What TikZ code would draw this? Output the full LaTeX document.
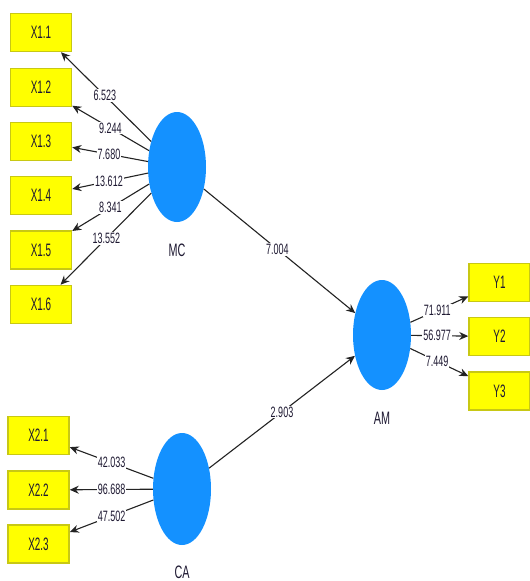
\documentclass[tikz,border=0pt]{standalone}
\usepackage{fontspec}
\setmainfont{Liberation Sans}
\newfontfamily\boxfont[FakeStretch=0.55]{Liberation Sans}
\newfontfamily\numfont[FakeStretch=0.6]{Liberation Sans}
\newfontfamily\latfont[FakeStretch=0.6]{Liberation Sans}
\usetikzlibrary{shapes.geometric,arrows.meta,calc}
\definecolor{boxfill}{RGB}{255,255,0}
\definecolor{boxline}{RGB}{200,200,20}
\definecolor{latblue}{RGB}{20,145,255}
\definecolor{linegray}{RGB}{35,35,35}
\definecolor{txtdark}{RGB}{30,25,50}
\begin{document}
\begin{tikzpicture}[x=1pt,y=-1pt,
 ind/.style={draw=boxline, line width=1.5pt, fill=boxfill, minimum width=61pt, minimum height=38pt, inner sep=0pt, text=txtdark, font=\boxfont\fontsize{18}{18}\selectfont},
 lat/.style={ellipse, fill=latblue, minimum width=58pt, minimum height=110pt, inner sep=0pt},
 latlbl/.style={text=txtdark, font=\latfont\fontsize{18}{18}\selectfont},
 conn/.style={draw=linegray, line width=1.1pt, -{Stealth[length=9pt,width=8pt]}},
 lbl/.style={fill=white, inner sep=1pt, text=txtdark, font=\numfont\fontsize{15}{15}\selectfont}
]
\useasboundingbox[fill=white] (0,0) rectangle (530,581);

% indicators
\node[ind] (X11) at (41,32.5) {X1.1};
\node[ind] (X12) at (41,87.5) {X1.2};
\node[ind] (X13) at (41,141.5) {X1.3};
\node[ind] (X14) at (41,195.5) {X1.4};
\node[ind] (X15) at (41,250) {X1.5};
\node[ind] (X16) at (41,304.5) {X1.6};
\node[ind] (X21) at (38.5,435.5) {X2.1};
\node[ind] (X22) at (38.5,490) {X2.2};
\node[ind] (X23) at (38.5,544) {X2.3};
\node[ind] (Y1) at (499.5,282.5) {Y1};
\node[ind] (Y2) at (499.5,336.5) {Y2};
\node[ind] (Y3) at (499.5,391) {Y3};

% latent variables
\node[lat] (MC) at (177,167) {};
\node[lat] (AM) at (382,335) {};
\node[lat, minimum height=112pt] (CA) at (182,489) {};
\node[latlbl] (MCl) at (177,250) {MC};
\node[latlbl] (AMl) at (382,418) {AM};
\node[latlbl] (CAl) at (182,572) {CA};

% connectors
\foreach \t in {X11,X12,X13,X14,X15,X16} \draw[conn] (MC) -- (\t);
\foreach \t in {X21,X22,X23} \draw[conn] (CA) -- (\t);
\foreach \t in {Y1,Y2,Y3} \draw[conn] (AM) -- (\t);
\draw[conn] (MC) -- (AM);
\draw[conn] (CA) -- (AM);

% labels
\node[lbl] (l11) at ($(MC)!0.53!(X11)$) {6.523};
\node[lbl] (l12) at ($(MC)!0.49!(X12)$) {9.244};
\node[lbl] (l13) at ($(MC)!0.5!(X13)$) {7.680};
\node[lbl] (l14) at ($(MC)!0.5!(X14)$) {13.612};
\node[lbl] (l15) at ($(MC)!0.49!(X15)$) {8.341};
\node[lbl] (l16) at ($(MC)!0.52!(X16)$) {13.552};
\node[lbl] (l21) at ($(CA)!0.49!(X21)$) {42.033};
\node[lbl] (l22) at ($(CA)!0.49!(X22)$) {96.688};
\node[lbl] (l23) at ($(CA)!0.49!(X23)$) {47.502};
\node[lbl] (ly1) at ($(AM)!0.47!(Y1)$) {71.911};
\node[lbl] (ly2) at ($(AM)!0.47!(Y2)$) {56.977};
\node[lbl] (ly3) at ($(AM)!0.47!(Y3)$) {7.449};
\node[lbl] (lma) at ($(MC)!0.49!(AM)$) {7.004};
\node[lbl] (lca) at ($(CA)!0.5!(AM)$) {2.903};
\end{tikzpicture}
\end{document}
